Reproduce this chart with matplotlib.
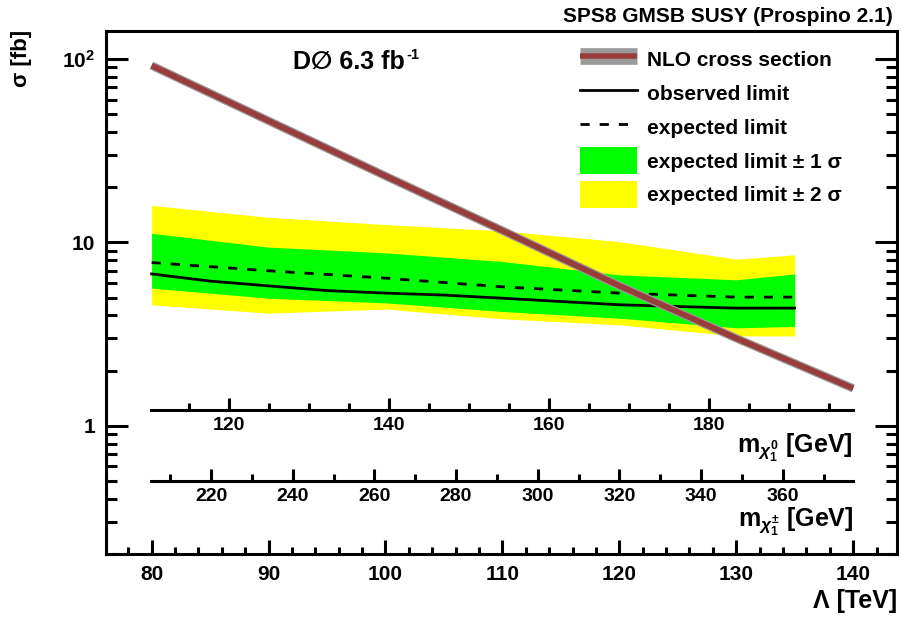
import numpy as np
import matplotlib
matplotlib.use("Agg")
import matplotlib.pyplot as plt
from matplotlib.lines import Line2D
from matplotlib.patches import Patch
from matplotlib.legend_handler import HandlerTuple
from matplotlib.ticker import FixedLocator, MultipleLocator, NullFormatter

plt.rcParams['font.family'] = ['Liberation Sans', 'DejaVu Sans']
plt.rcParams['font.weight'] = 'bold'
plt.rcParams['mathtext.fontset'] = 'custom'
plt.rcParams['mathtext.rm'] = 'Liberation Sans:bold'
plt.rcParams['mathtext.bf'] = 'Liberation Sans:bold'
plt.rcParams['mathtext.it'] = 'Liberation Sans:italic'

# data (Lambda in TeV, sigma in fb)
lam_nlo = [80, 90, 100, 110, 120, 130, 140]
nlo = [92, 46, 23, 11.6, 5.8, 3.0, 1.6]

lam_band = [80, 90, 100, 110, 120, 130, 135]
exp_lim = [7.76, 7.0, 6.38, 5.72, 5.29, 5.03, 5.03]
band1_hi = [11.2, 9.42, 8.77, 7.86, 6.65, 6.25, 6.73]
band1_lo = [5.63, 4.96, 4.68, 4.2, 3.86, 3.42, 3.48]
band2_hi = [15.9, 13.7, 12.5, 11.55, 10.1, 8.1, 8.55]
band2_lo = [4.57, 4.11, 4.33, 3.83, 3.55, 3.09, 3.09]

lam_obs = [80, 85, 90, 95, 100, 105, 110, 115, 120, 125, 130, 135]
obs_lim = [6.73, 6.15, 5.79, 5.46, 5.29, 5.16, 4.96, 4.76, 4.57, 4.47, 4.38, 4.38]

# secondary mass scales (GeV) at Lambda = 80 and 140 TeV
m_chi0_range = [110.2, 198.0]
m_chipm_range = [205.3, 377.2]

W, H = 904, 617
fig = plt.figure(figsize=(W / 100, H / 100), dpi=100)
ax = fig.add_axes([106 / W, 1 - 554 / H, (897 - 106) / W, (554 - 31) / H])

ax.fill_between(lam_band, band2_lo, band2_hi, color='#ffff00', lw=0, zorder=1)
ax.fill_between(lam_band, band1_lo, band1_hi, color='#00ff00', lw=0, zorder=2)
ax.plot(lam_band, exp_lim, color='black', lw=2.0, dashes=(3.3, 3.6), zorder=3)
ax.plot(lam_obs, obs_lim, color='black', lw=2.0, zorder=3)
ax.plot(lam_nlo, nlo, color='#9a9a9a', lw=6.0, solid_capstyle='butt', zorder=4)
ax.plot(lam_nlo, nlo, color='#993c3c', lw=4.2, solid_capstyle='butt', zorder=5)

ax.set_yscale('log')
ax.set_ylim(0.2, 142)
ax.set_xlim(76.1, 143.75)

for s in ax.spines.values():
    s.set_linewidth(2.2)

ax.yaxis.set_major_locator(FixedLocator([1, 10, 100]))
ax.set_yticklabels(['1', '10', r'$\mathbf{10^{2}}$'])
ax.yaxis.set_minor_locator(FixedLocator(
    [m * 10.0 ** e for e in (-1, 0, 1, 2) for m in range(2, 10)]))
ax.yaxis.set_minor_formatter(NullFormatter())
ax.tick_params(axis='y', which='major', direction='in', length=16, width=2.2,
               right=True, labelsize=15, pad=8)
ax.tick_params(axis='y', which='minor', direction='in', length=8, width=2.2,
               right=True)

ax.xaxis.set_major_locator(MultipleLocator(10))
ax.xaxis.set_minor_locator(MultipleLocator(2))
ax.tick_params(axis='x', which='major', direction='in', length=10, width=2.2,
               labelsize=15, pad=8)
ax.tick_params(axis='x', which='minor', direction='in', length=5, width=2.2)

fig.text(22 / W, 1 - 30 / H, u'\u03c3 [fb]', rotation=90, ha='center',
         va='top', fontsize=16)
fig.text(897 / W, 1 - 601 / H, u'\u039b [TeV]', ha='right', va='center',
         fontsize=18)
fig.text(893 / W, 1 - 17 / H, 'SPS8 GMSB SUSY (Prospino 2.1)', ha='right',
         va='center', fontsize=15)
lbl = fig.text(293 / W, 1 - 62 / H, u'D\u2205 6.3 fb', ha='left',
               va='center', fontsize=18)
ax.annotate('-1', xy=(1, 0.78), xycoords=lbl, xytext=(1, 0),
            textcoords='offset points', ha='left', va='center', fontsize=10.5)

# secondary mass axes drawn inside the frame
for ypix, rng, major, minor, title, tpix in [
        (410, m_chi0_range, 20, 5, r'm$_{\chi^{0}_{1}}$ [GeV]', 448),
        (481, m_chipm_range, 20, 10, r'm$_{\chi^{\pm}_{1}}$ [GeV]', 522)]:
    sax = fig.add_axes([151 / W, 1 - ypix / H, 702 / W, 0.03])
    sax.patch.set_alpha(0)
    for k in ('top', 'left', 'right'):
        sax.spines[k].set_visible(False)
    sax.spines['bottom'].set_linewidth(2.2)
    sax.set_xlim(*rng)
    sax.set_yticks([])
    sax.xaxis.set_major_locator(MultipleLocator(major))
    sax.xaxis.set_minor_locator(MultipleLocator(minor))
    sax.tick_params(axis='x', which='major', direction='in', length=9,
                    width=2.2, labelsize=14, pad=5)
    sax.tick_params(axis='x', which='minor', direction='in', length=5,
                    width=2.2)
    fig.text(853 / W, 1 - tpix / H, title, ha='right', va='center',
             fontsize=18)

h_nlo = (Line2D([], [], color='#9a9a9a', lw=12, solid_capstyle='butt'),
         Line2D([], [], color='#993c3c', lw=4, solid_capstyle='butt'))
handles = [h_nlo,
           Line2D([], [], color='black', lw=2.0),
           Line2D([], [], color='black', lw=2.0, dashes=(3.3, 3.6)),
           Patch(facecolor='#00ff00', edgecolor='none'),
           Patch(facecolor='#ffff00', edgecolor='none')]
labels = ['NLO cross section', 'observed limit', 'expected limit',
          u'expected limit \u00b1 1 \u03c3', u'expected limit \u00b1 2 \u03c3']
ax.legend(handles, labels, loc='upper left', bbox_to_anchor=(561 / W, 1 - 27 / H),
          bbox_transform=fig.transFigure, frameon=False, fontsize=15,
          handlelength=2.74, handleheight=1.6, handletextpad=0.5,
          labelspacing=0.34, handler_map={tuple: HandlerTuple(ndivide=1)})

fig.savefig('out.png', dpi=100)
